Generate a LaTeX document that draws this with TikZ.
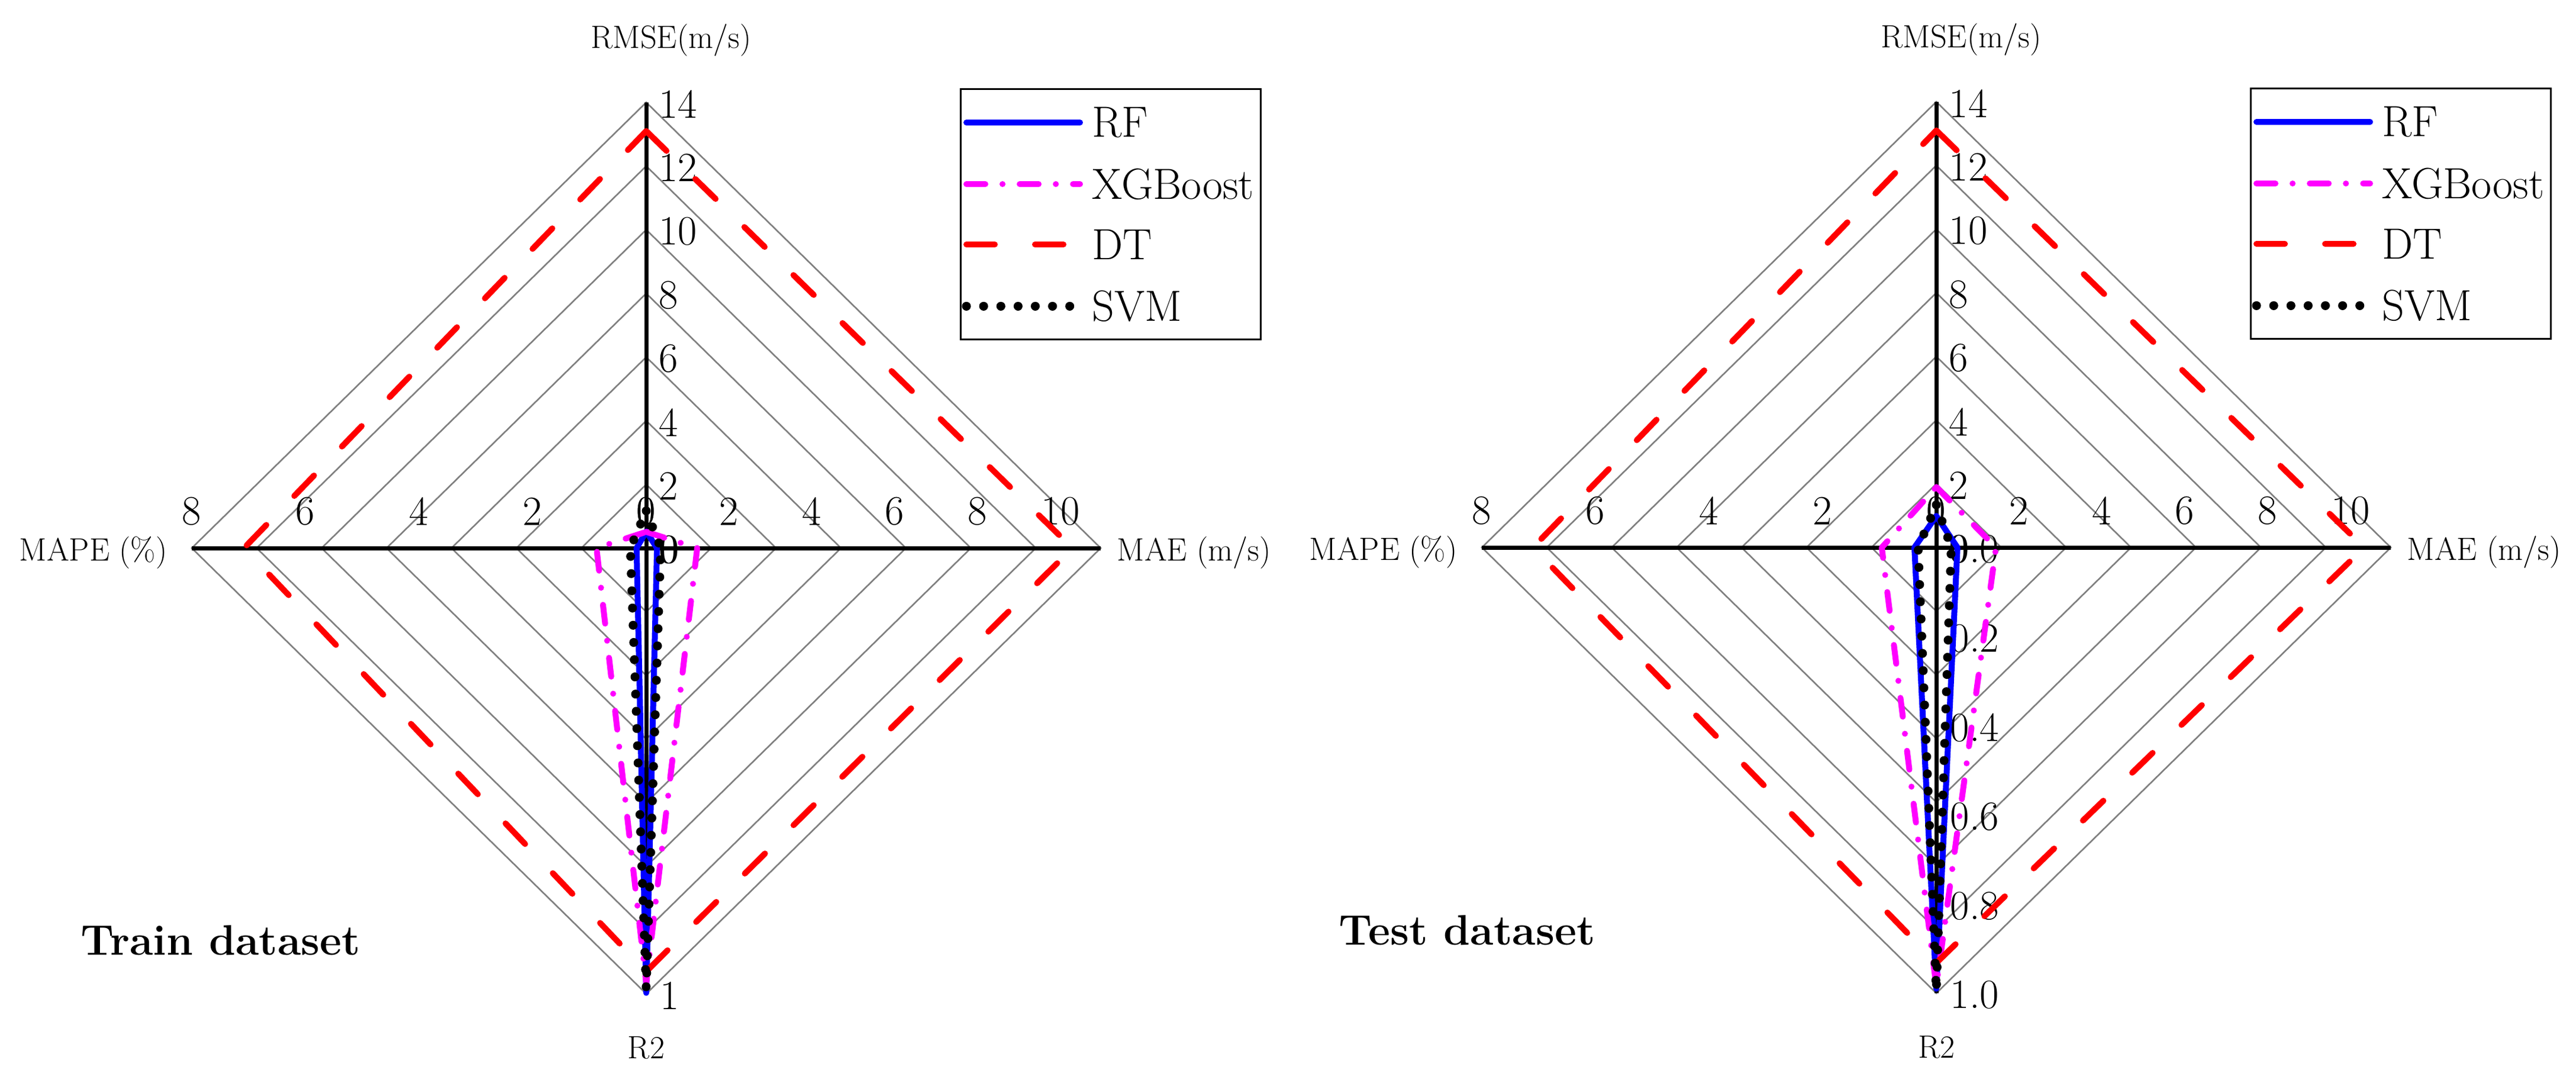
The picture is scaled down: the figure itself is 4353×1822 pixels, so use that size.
\documentclass[tikz,border=0pt]{standalone}
\usepackage{fontspec}
\usepackage{tikz}
\usetikzlibrary{positioning}
\definecolor{xgbpink}{RGB}{255,0,255}
\definecolor{rfblue}{RGB}{0,0,255}
\definecolor{dtred}{RGB}{255,0,0}
\tikzset{
  ring/.style={draw=black!50, line width=0.75pt},
  axisline/.style={draw=black, line width=2pt},
  ticklabel/.style={inner sep=0pt, font=\fontsize{20}{20}\selectfont},
  axislabel/.style={inner sep=0pt, font=\fontsize{15.5}{16}\selectfont},
  legendtext/.style={inner sep=0pt, anchor=west, font=\fontsize{21}{21}\selectfont},
  setlabel/.style={inner sep=0pt, anchor=base west, font=\bfseries\fontsize{20.5}{21}\selectfont},
  rfline/.style={draw=rfblue, line width=1mm, line cap=round, line join=round},
  xgbline/.style={draw=xgbpink, line width=1mm, line cap=round, line join=round, dash pattern=on 3.2mm off 2.9mm on 0.01mm off 2.9mm},
  dtline/.style={draw=dtred, line width=1mm, line cap=round, line join=round, dash pattern=on 4.8mm off 6.8mm},
  svmline/.style={draw=black, line width=1.5mm, line cap=round, dash pattern=on 0.01mm off 2.9mm},
}
% grid, axes, common labels and legend of one radar chart (#1 = name prefix)
\newcommand{\radarframe}[1]{
  \foreach \k in {1,...,7}
    \draw[ring] (0,{-\k*107.57}) -- ({\k*109.71},0) -- (0,{\k*107.57}) -- ({-\k*109.71},0) -- cycle;
  \coordinate (#1N) at (0,-753);
  \coordinate (#1S) at (0,753);
  \coordinate (#1W) at (-768,0);
  \coordinate (#1E) at (768,0);
  \draw[axisline] (#1N) -- (#1S);
  \draw[axisline] (#1W) -- (#1E);
  \foreach \v in {0,2,...,14}
    \node[ticklabel, anchor=west] (#1r\v) at (21,{-\v*53.79+3}) {\v};
  \foreach \v in {0,2,...,10}
    \node[ticklabel, anchor=south] (#1m\v) at ({\v*70},-38) {\v};
  \foreach \v in {0,2,...,8}
    \node[ticklabel, anchor=south] (#1p\v) at ({-\v*96},-38) {\v};
  \node[axislabel, anchor=base] (#1rmse) at (42,-845) {RMSE(m/s)};
  \node[axislabel, anchor=base east] (#1mape) at (-809,21) {MAPE (\%)};
  \node[axislabel, anchor=base west] (#1mae) at (795,21) {MAE (m/s)};
  \node[axislabel, anchor=base] (#1rtwo) at (0,862) {R2};
  % legend
  \draw[line width=0.85pt] (531,-776) rectangle (1038,-353);
  \foreach \y/\s/\t [count=\i] in {-719/rfline/RF, -615/xgbline/XGBoost, -513/dtline/DT, -409/svmline/SVM} {
    \coordinate (#1la\i) at (541,\y);
    \coordinate (#1lb\i) at (733,\y);
    \draw[\s] (#1la\i) -- (#1lb\i);
    \node[legendtext, right=2mm of #1lb\i] (#1lt\i) {\t};
  }
}
% one model: style, RMSE, MAE, R2, MAPE
\newcommand{\model}[5]{
  \draw[#1] (0,{-#2*53.79}) -- ({#3*70},0) -- (0,{#4*753}) -- ({-#5*96},0) -- cycle;
}

\begin{document}
\begin{tikzpicture}[x=0.1mm, y=-0.1mm]
  \useasboundingbox (0,0) rectangle (4353,1822);

  % train dataset
  \begin{scope}[shift={(1092,926)}]
    \radarframe{a}
    \node[ticklabel, anchor=west] (aq0) at (23,3) {0};
    \node[ticklabel, anchor=west] (aq1) at (23,756) {1};
    \model{rfline}{0.52}{0.26}{0.998}{0.17}
    \model{xgbline}{0.51}{1.23}{0.976}{0.875}
    \model{dtline}{13.1}{10.29}{0.95}{7.08}
    \model{svmline}{1.17}{0.35}{0.988}{0.28}
  \end{scope}

  % test dataset
  \begin{scope}[shift={(3272,925)}]
    \radarframe{b}
    \foreach \v in {0.0,0.2,0.4,0.6,0.8,1.0}
      \node[ticklabel, anchor=west] (bq\v) at (23,{\v*753+3}) {\v};
    \model{rfline}{0.99}{0.51}{0.99}{0.385}
    \model{xgbline}{1.90}{1.44}{0.985}{0.96}
    \model{dtline}{13.1}{10.33}{0.932}{7.1}
    \model{svmline}{1.34}{0.36}{0.995}{0.32}
  \end{scope}

  \node[setlabel] (train) at (136,1613) {Train dataset};
  \node[setlabel] (test) at (2262,1596) {Test dataset};
\end{tikzpicture}
\end{document}
